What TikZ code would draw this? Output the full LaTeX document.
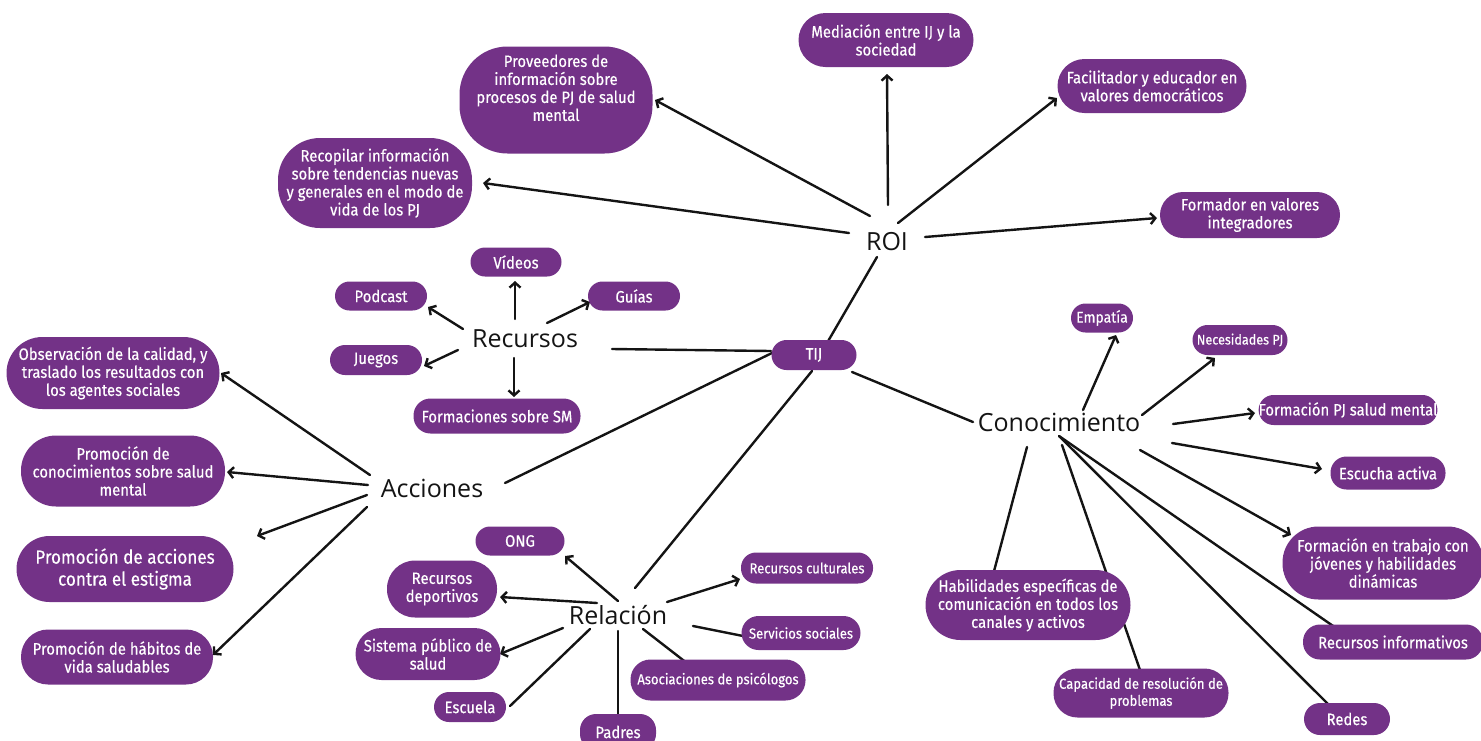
\documentclass[tikz,border=0pt]{standalone}
\usepackage{fontspec}
\usetikzlibrary{arrows.meta,calc}
\newfontfamily\hubfont{Open Sans}
\newfontfamily\boxfont[FakeStretch=0.9,FakeBold=0.4]{Fira Sans}
\definecolor{pur}{RGB}{115,50,135}
\definecolor{ink}{RGB}{20,20,20}
\pgfdeclarelayer{background}
\pgfsetlayers{background,main}
\tikzset{
  bx/.style n args={3}{fill=pur, text=white, align=center, inner sep=0pt,
    minimum width=#1pt, minimum height=#2pt, rounded corners=#3pt,
    font=\boxfont\fontsize{16.5}{18}\selectfont},
  smallfont/.style={font=\boxfont\fontsize{14.5}{17}\selectfont},
  midfont/.style={font=\boxfont\fontsize{15.5}{17}\selectfont},
  necfont/.style={font=\boxfont\fontsize{14}{17}\selectfont},
  bigfont/.style={font=\boxfont\fontsize{19}{22}\selectfont},
  hub/.style={font=\hubfont\fontsize{25}{29}\selectfont, text=ink, inner sep=0pt},
  ln/.style={line width=2.4pt, ink, line cap=round},
  ar/.style={ln, -{Straight Barb[length=5pt,width=11pt]}},
}
\begin{document}
\begin{tikzpicture}[x=1pt,y=-1pt]
\useasboundingbox (0,0) rectangle (1481,740);
\clip (0,0) rectangle (1481,740);

% hubs
\node[hub] (roi) at (887,242) {ROI};
\node[hub] (rec) at (525,339) {Recursos};
\node[hub] (acc) at (432,488) {Acciones};
\node[hub] (rel) at (618,615) {Relación};
\node[hub] (con) at (1059,422) {Conocimiento};
\node[bx={85}{30}{15}] (tij) at (814,355) {TIJ};

% ROI boxes
\node[bx={193}{107}{48}] (prov) at (556,100) {Proveedores de\\información sobre\\procesos de PJ de salud\\mental\\[6.5pt]\mbox{}};
\node[bx={194}{90}{42}] (recop) at (375,183) {Recopilar información\\sobre tendencias nuevas\\y generales en el modo de\\vida de los PJ};
\node[bx={175}{54}{27}] (med) at (886,40) {Mediación entre IJ y la\\sociedad};
\node[bx={189}{54}{27}] (fac) at (1152,86) {Facilitador y educador en\\valores democráticos};
\node[bx={180}{46}{23}] (form) at (1250,215) {Formador en valores\\integradores};

% Recursos boxes
\node[bx={91}{29}{14.5}] (vid) at (516,262) {Vídeos};
\node[bx={92}{29}{14.5}] (pod) at (381,296) {Podcast};
\node[bx={92}{29}{14.5}] (gui) at (634,296) {Guías};
\node[bx={92}{30}{15}] (jue) at (376,360) {Juegos};
\node[bx={167}{35}{17}] (fsm) at (497,416) {Formaciones sobre SM};

% Acciones boxes
\node[bx={213}{72}{36}] (obs) at (113,373) {Observación de la calidad, y\\traslado los resultados con\\los agentes sociales};
\node[bx={204}{71}{35}] (pcon) at (123,471) {Promoción de\\conocimientos sobre salud\\mental};
\node[bx={217}{66}{33}, bigfont] (pest) at (125,569) {Promoción de acciones\\contra el estigma};
\node[bx={192}{55}{27}] (phab) at (117,657) {Promoción de hábitos de\\vida saludables};
\coordinate (estigend) at (257,536);

% Relacion boxes
\node[bx={89}{29}{14.5}] (ong) at (520,541) {ONG};
\node[bx={110}{57}{28}] (rdep) at (442,589) {Recursos\\deportivos};
\node[bx={145}{52}{26}] (sps) at (428,654) {Sistema público de\\salud};
\node[bx={72}{30}{15}] (esc) at (470,707) {Escuela};
\node[bx={76}{36}{16}] (pad) at (618,732) {Padres};
\node[bx={132}{31}{15}, smallfont] (rcul) at (807,568) {Recursos culturales};
\node[bx={119}{34}{17}, smallfont] (ss) at (801,633) {Servicios sociales};
\node[bx={175}{41}{20}, smallfont] (aso) at (718,680) {Asociaciones de psicólogos};

% Conocimiento boxes
\node[bx={62}{29}{14.5}, midfont] (emp) at (1102,318) {Empatía};
\node[bx={95}{30}{15}, necfont] (nec) at (1240,340) {Necesidades PJ};
\node[bx={176}{30}{15}] (fpj) at (1348,410) {Formación PJ salud mental};
\node[bx={115}{33}{16}] (esa) at (1388,473) {Escucha activa};
\node[bx={201}{73}{36}] (ftr) at (1383,563) {Formación en trabajo con\\jóvenes y habilidades\\dinámicas};
\node[bx={180}{35}{17}] (rinf) at (1393,642) {Recursos informativos};
\node[bx={86}{32}{16}] (red) at (1347,719) {Redes};
\node[bx={175}{49}{24}, smallfont] (cap) at (1141,693) {Capacidad de resolución de\\problemas};
\node[bx={205}{70}{35}] (habe) at (1028,605) {Habilidades específicas de\\comunicación en todos los\\canales y activos};

\begin{pgfonlayer}{background}
% ROI
\draw[ar] ($(roi)+(-17,-26)$) -- ($(prov)+(99,0)$);
\draw[ar] ($(roi)+(-38,-9)$) -- ($(recop)+(108,0)$);
\draw[ar] ($(roi)+(1,-37)$) -- ($(med)+(1,34)$);
\draw[ar] ($(roi)+(11,-19)$) -- ($(fac)+(-95,12)$);
\draw[ar] ($(roi)+(38,-5)$) -- ($(form)+(-93,3)$);
\draw[ln] ($(roi)+(-10,15)$) -- ($(tij)+(13,-12)$);
% Recursos
\draw[ar] ($(rec)+(-10,-20)$) -- ($(vid)+(-1,19)$);
\draw[ar] ($(rec)+(-62,-10)$) -- ($(pod)+(47,11)$);
\draw[ar] ($(rec)+(22,-16)$) -- ($(gui)+(-44,6)$);
\draw[ar] ($(rec)+(-67,11)$) -- ($(jue)+(48,6)$);
\draw[ar] ($(rec)+(-11,19)$) -- ($(fsm)+(17,-19)$);
\draw[ln] ($(rec)+(87,10)$) -- ($(tij)+(-43,-4)$);
% TIJ
\draw[ln] ($(tij)+(-42,-2)$) -- ($(acc)+(73,-5)$);
\draw[ln] ($(tij)+(-2,16)$) -- ($(rel)+(17,-27)$);
\draw[ln] ($(tij)+(38,17)$) -- ($(con)+(-86,0)$);
% Acciones
\draw[ar] ($(acc)+(-62,-13)$) -- ($(obs)+(108,0)$);
\draw[ar] ($(acc)+(-64,-3)$) -- ($(pcon)+(104,1)$);
\draw[ar] ($(acc)+(-65,7)$) -- (estigend);
\draw[ar] ($(acc)+(-65,19)$) -- ($(phab)+(96,-2)$);
% Relacion
\draw[ar] ($(rel)+(0,-14)$) -- ($(ong)+(45,15)$);
\draw[ar] ($(rel)+(-21,-12)$) -- ($(rdep)+(58,8)$);
\draw[ar] ($(rel)+(-55,13)$) -- ($(sps)+(72,0)$);
\draw[ln] ($(rel)+(-28,14)$) -- ($(esc)+(40,-1)$);
\draw[ln] ($(rel)+(0,16)$) -- ($(pad)+(0,-16)$);
\draw[ln] ($(rel)+(25,14)$) -- ($(aso)+(-26,-13)$);
\draw[ln] ($(rel)+(75,11)$) -- ($(ss)+(-58,3)$);
\draw[ar] ($(rel)+(49,-13)$) -- ($(rcul)+(-67,11)$);
% Conocimiento
\draw[ar] ($(con)+(24,-12)$) -- ($(emp)+(14,17)$);
\draw[ar] ($(con)+(83,-7)$) -- ($(nec)+(-25,18)$);
\draw[ar] ($(con)+(114,2)$) -- ($(fpj)+(-93,3)$);
\draw[ar] ($(con)+(113,21)$) -- ($(esa)+(-66,-4)$);
\draw[ar] ($(con)+(81,28)$) -- ($(ftr)+(-92,-28)$);
\draw[ln] ($(con)+(-32,25)$) -- ($(habe)+(-35,-30)$);
\draw[ln] ($(con)+(3,23)$) -- ($(cap)+(-1,-23)$);
\draw[ln] ($(con)+(0,14)$) -- ($(red)+(-17,-13)$);
\draw[ln] ($(con)+(0,14)$) -- ($(rinf)+(-57,-14)$);
\end{pgfonlayer}
\end{tikzpicture}
\end{document}
